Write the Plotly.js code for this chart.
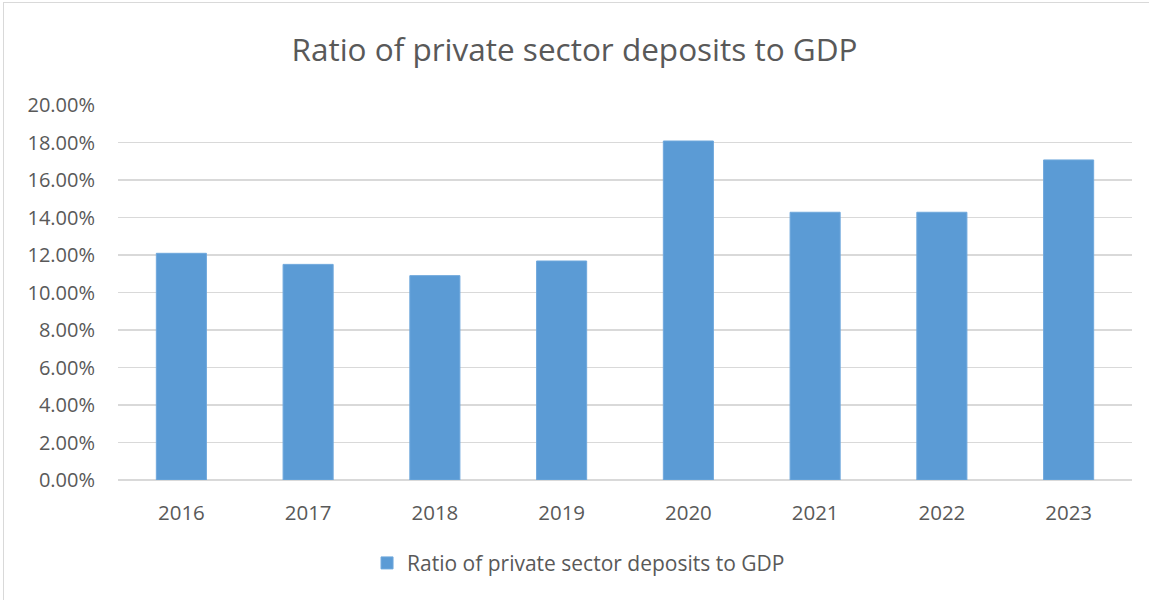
<!DOCTYPE html>
<html>
<head>
<meta charset="utf-8">
<script src="https://cdn.plot.ly/plotly-3.0.1.min.js"></script>
<style>
  html, body { margin: 0; padding: 0; background: #fff; overflow: hidden; }
  #frame { position: absolute; left: 3px; top: 2px; width: 1200px; height: 650px; border: 1px solid #d9d9d9; box-sizing: border-box; }
  #chart { position: absolute; left: 0; top: 0; width: 1149px; height: 600px; }
</style>
</head>
<body>
<div id="frame"></div>
<div id="chart"></div>
<script>
const years = ['2016', '2017', '2018', '2019', '2020', '2021', '2022', '2023'];
const ratios = [0.1209, 0.1150, 0.1090, 0.1168, 0.1808, 0.1428, 0.1428, 0.1707];
const seriesName = 'Ratio of private sector deposits to GDP';
const yTicks = [0, 0.02, 0.04, 0.06, 0.08, 0.10, 0.12, 0.14, 0.16, 0.18, 0.20];

const font = 'Open Sans, Lato, sans-serif';
const trace = {
  type: 'bar',
  x: years,
  y: ratios,
  name: seriesName,
  marker: { color: '#5b9bd5', line: { color: '#6fa8dc', width: 1 } },
  hoverinfo: 'x+y'
};

const layout = {
  width: 1149,
  height: 600,
  paper_bgcolor: 'rgba(0,0,0,0)',
  plot_bgcolor: 'rgba(0,0,0,0)',
  margin: { l: 118, r: 17, t: 105, b: 120 },
  title: {
    text: 'Ratio of private sector deposits to GDP',
    font: { family: font, size: 31.5, color: '#595959' },
    x: 0.5, xanchor: 'center', y: 0.917, yanchor: 'middle'
  },
  bargap: 0.605,
  showlegend: true,
  legend: {
    orientation: 'h', x: 0.2456, xanchor: 'left', y: -0.222, yanchor: 'middle',
    itemwidth: 30,
    font: { family: font, size: 21, color: '#595959' }
  },
  xaxis: {
    type: 'category',
    tickfont: { family: font, size: 20.5, color: '#595959' },
    showgrid: false,
    showline: false,
    ticks: '',
    ticklabelstandoff: 18
  },
  yaxis: {
    range: [0, 0.2],
    tickvals: yTicks,
    tickformat: '.2%',
    tickfont: { family: font, size: 20, color: '#595959' },
    gridcolor: '#d9d9d9',
    gridwidth: 1.5,
    zeroline: true,
    zerolinecolor: '#d9d9d9',
    zerolinewidth: 1.5,
    showline: false,
    ticks: '',
    ticklabelstandoff: 22
  }
};

Plotly.newPlot('chart', [trace], layout, { displayModeBar: false, staticPlot: true });
</script>
</body>
</html>
